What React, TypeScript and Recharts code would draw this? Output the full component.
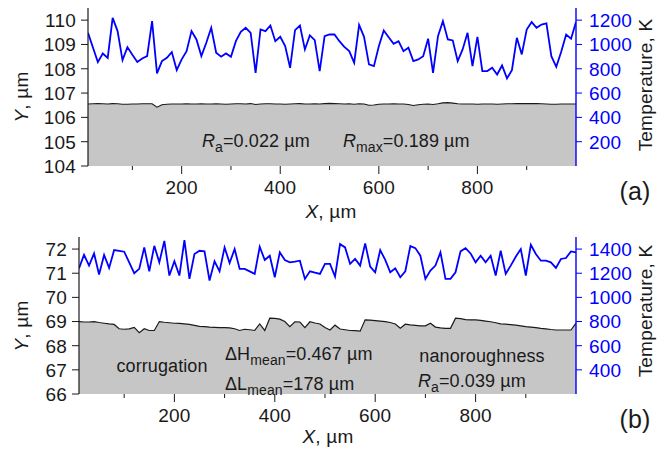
import React from 'react'
import { ComposedChart, Area, Line, XAxis, YAxis } from 'recharts'

const FONT = '"Liberation Sans", Arial, sans-serif'
const BLUE = '#0000ff'
const INK = '#1a1a1a'

// X positions, um
const xs = [
  10, 20, 30, 40, 50, 60, 70, 80, 90, 100, 110, 120, 130, 140, 150, 160, 170, 180, 190, 200,
  210, 220, 230, 240, 250, 260, 270, 280, 290, 300, 310, 320, 330, 340, 350, 360, 370, 380, 390, 400,
  410, 420, 430, 440, 450, 460, 470, 480, 490, 500, 510, 520, 530, 540, 550, 560, 570, 580, 590, 600,
  610, 620, 630, 640, 650, 660, 670, 680, 690, 700, 710, 720, 730, 740, 750, 760, 770, 780, 790, 800,
  810, 820, 830, 840, 850, 860, 870, 880, 890, 900, 910, 920, 930, 940, 950, 960, 970, 980, 990, 1000,
]

// (a) surface profile Y, um
const surfA = [
  106.55, 106.56, 106.57, 106.56, 106.55, 106.57, 106.56, 106.54, 106.54, 106.55,
  106.55, 106.56, 106.56, 106.56, 106.42, 106.52, 106.54, 106.55, 106.55, 106.55,
  106.56, 106.55, 106.55, 106.56, 106.55, 106.55, 106.56, 106.55, 106.54, 106.55,
  106.56, 106.56, 106.55, 106.57, 106.53, 106.55, 106.56, 106.56, 106.55, 106.55,
  106.54, 106.55, 106.56, 106.57, 106.55, 106.55, 106.56, 106.55, 106.57, 106.58,
  106.57, 106.56, 106.55, 106.56, 106.54, 106.56, 106.55, 106.50, 106.51, 106.54,
  106.55, 106.55, 106.56, 106.55, 106.55, 106.53, 106.49, 106.52, 106.54, 106.55,
  106.53, 106.56, 106.60, 106.61, 106.59, 106.56, 106.55, 106.55, 106.55, 106.54,
  106.55, 106.55, 106.55, 106.54, 106.55, 106.56, 106.56, 106.57, 106.57, 106.57,
  106.57, 106.57, 106.56, 106.55, 106.54, 106.54, 106.55, 106.55, 106.55, 106.55,
]

// (a) temperature, K
const tempA = [
  1096, 975, 855, 926, 890, 1219, 1110, 871, 978, 915,
  855, 885, 904, 1192, 762, 863, 890, 937, 789, 877,
  945, 1110, 1041, 904, 1014, 1137, 932, 899, 926, 899,
  1027, 1104, 1137, 1096, 767, 1123, 1110, 1156, 1027, 1063,
  986, 808, 1118, 1156, 959, 1074, 1036, 781, 1068, 1082,
  1082, 1027, 980, 945, 849, 1160, 1063, 836, 822, 986,
  1115, 1060, 1005, 1027, 945, 973, 863, 877, 904, 1047,
  767, 1068, 1192, 1041, 1033, 863, 959, 1096, 822, 1063,
  781, 781, 808, 753, 827, 721, 789, 1055, 918, 1123,
  1184, 1137, 1164, 1173, 904, 816, 940, 1082, 1047, 1185,
]

// (b) surface profile Y, um
const surfB = [
  69.0, 68.98, 68.98, 69.0, 68.96, 68.93, 68.9, 68.88, 68.7, 68.68,
  68.7, 68.76, 68.54, 68.7, 68.63, 68.63, 69.0, 68.97, 68.95, 68.93,
  68.92, 68.9, 68.88, 68.84, 68.8, 68.79, 68.77, 68.76, 68.75, 68.75,
  68.74, 68.7, 68.63, 68.68, 68.66, 68.63, 68.9, 68.63, 69.14, 69.13,
  69.1, 69.0, 68.79, 68.99, 68.98, 68.75, 68.99, 68.94, 68.9, 68.75,
  68.65, 68.85, 68.69, 68.66, 68.63, 68.62, 68.6, 69.07, 69.06, 69.04,
  69.02, 69.0, 68.96, 68.9, 68.72, 68.89, 68.86, 68.84, 68.82, 68.82,
  68.93, 68.77, 68.74, 68.72, 68.72, 69.14, 69.12, 69.08, 69.07, 69.07,
  69.05, 69.02, 68.99, 68.95, 68.9, 68.89, 68.87, 68.85, 68.82, 68.79,
  68.77, 68.75, 68.72, 68.7, 68.67, 68.65, 68.65, 68.65, 68.65, 68.93,
]

// (b) temperature, K
const tempB = [
  1240, 1353, 1263, 1364, 1189, 1351, 1244, 1392, 1385, 1378,
  1290, 1200, 1236, 1414, 1216, 1427, 1290, 1468, 1181, 1299,
  1181, 1474, 1153, 1359, 1386, 1381, 1140, 1299, 1216, 1414,
  1285, 1400, 1236, 1236, 1215, 1195, 1419, 1310, 1345, 1167,
  1373, 1310, 1290, 1296, 1304, 1153, 1216, 1205, 1195, 1277,
  1277, 1173, 1441, 1414, 1277, 1318, 1263, 1447, 1255, 1208,
  1392, 1310, 1208, 1241, 1167, 1216, 1425, 1408, 1345, 1153,
  1222, 1263, 1373, 1153, 1153, 1208, 1381, 1408, 1364, 1290,
  1345, 1290, 1345, 1181, 1386, 1195, 1263, 1337, 1400, 1181,
  1436, 1359, 1304, 1304, 1290, 1244, 1318, 1326, 1381, 1373,
]

const xTicks = [100, 200, 300, 400, 500, 600, 700, 800, 900]
const yTicksA = [104, 105, 106, 107, 108, 109, 110]
const tTicksA = [200, 400, 600, 800, 1000, 1200]
const yTicksB = [66, 67, 68, 69, 70, 71, 72]
const tTicksB = [400, 600, 800, 1000, 1200, 1400]

const dataA = xs.map((x, i) => ({ x, y: surfA[i], t: tempA[i] }))
const dataB = xs.map((x, i) => ({ x, y: surfB[i], t: tempB[i] }))

const txt = { fontFamily: FONT, fontSize: 19, letterSpacing: 0.2 }
const note = { fontFamily: FONT, fontSize: 18, letterSpacing: 0.1 }

const LeftTick = ({ x, y, payload }: any) => (
  <text x={x} y={y} dy="0.36em" textAnchor="end" fill={INK} {...txt}>{payload.value}</text>
)
const RightTick = ({ x, y, payload }: any) => (
  <text x={x} y={y} dy="0.36em" textAnchor="start" fill={BLUE} {...txt}>{payload.value}</text>
)
const XTick = ({ x, y, payload }: any) => {
  const base = y - 13
  const major = payload.value % 200 === 0
  return (
    <g>
      <line x1={x} x2={x} y1={base} y2={base + (major ? 8 : 4)} stroke={INK} strokeWidth={1} />
      {major && (
        <text x={x} y={base + 21} dy="0.36em" textAnchor="middle" fill={INK} {...txt}>{payload.value}</text>
      )}
    </g>
  )
}

function Panel({ data, yDomain, yTicks, tDomain, tTicks, top, height, leftW, xH }: any) {
  return (
    <div style={{ position: 'absolute', left: 0, top }}>
      <ComposedChart width={670} height={height} data={data} margin={{ top: top === 0 ? 8 : 12, right: 0, bottom: 0, left: 0 }}>
        <XAxis
          dataKey="x" type="number" domain={[10, 1000]} ticks={xTicks} allowDataOverflow
          axisLine={false} tickLine={false} tickSize={8} tickMargin={5} height={xH} tick={XTick}
        />
        <YAxis
          yAxisId="left" orientation="left" type="number" domain={yDomain} ticks={yTicks} allowDataOverflow
          width={leftW} stroke={INK} tickSize={7} tickMargin={5} tick={LeftTick}
          axisLine={{ stroke: INK, strokeWidth: 1.2 }} tickLine={{ stroke: INK }}
        />
        <YAxis
          yAxisId="right" orientation="right" type="number" domain={tDomain} ticks={tTicks} allowDataOverflow
          width={94} tickSize={6} tickMargin={7} tick={RightTick}
          axisLine={{ stroke: BLUE, strokeWidth: 1.4 }} tickLine={{ stroke: BLUE }}
        />
        <Area
          yAxisId="left" dataKey="y" type="linear" fill="#c6c6c6" fillOpacity={1}
          stroke={INK} strokeWidth={1.2} isAnimationActive={false} dot={false} activeDot={false}
        />
        <Line
          yAxisId="right" dataKey="t" type="linear" stroke={BLUE} strokeWidth={1.8}
          dot={false} activeDot={false} isAnimationActive={false}
        />
      </ComposedChart>
    </div>
  )
}

// label with a subscript: main, sub, then the rest back on the baseline
const Sub = ({ x, y, lead, italic, s, rest }: any) => (
  <text x={x} y={y} {...note}>
    <tspan fontStyle={italic ? 'italic' : 'normal'}>{lead}</tspan>
    <tspan dy={5} fontSize={14}>{s}</tspan>
    <tspan dy={-5}>{rest}</tspan>
  </text>
)

export default function App() {
  return (
    <div style={{ position: 'absolute', left: 0, top: 0, width: 670, height: 453, background: '#fff' }}>
      <Panel data={dataA} yDomain={[104, 110.5]} yTicks={yTicksA} tDomain={[0, 1300]} tTicks={tTicksA}
        top={0} height={230} leftW={88} xH={64} />
      <Panel data={dataB} yDomain={[66, 72.5]} yTicks={yTicksB} tDomain={[200, 1500]} tTicks={tTicksB}
        top={225} height={228} leftW={79} xH={59} />
      <svg width={670} height={453} style={{ position: 'absolute', left: 0, top: 0, pointerEvents: 'none' }}>
        <g fill={INK} {...txt}>
          {/* axis titles (a) */}
          <text x={28} y={97} textAnchor="middle" transform="rotate(-90 28 97)">
            <tspan fontStyle="italic">Y</tspan>, µm
          </text>
          <text x={652} y={85} textAnchor="middle" transform="rotate(-90 652 85)">Temperature, K</text>
          <text x={331} y={218} textAnchor="middle"><tspan fontStyle="italic">X</tspan>, µm</text>
          <text x={635} y={200} textAnchor="middle" fontSize={25}>(a)</text>

          {/* axis titles (b) */}
          <text x={28} y={326} textAnchor="middle" transform="rotate(-90 28 326)">
            <tspan fontStyle="italic">Y</tspan>, µm
          </text>
          <text x={652} y={311} textAnchor="middle" transform="rotate(-90 652 311)">Temperature, K</text>
          <text x={328} y={443} textAnchor="middle"><tspan fontStyle="italic">X</tspan>, µm</text>
          <text x={635} y={428} textAnchor="middle" fontSize={25}>(b)</text>

          {/* annotations (a) */}
          <Sub x={202} y={147} lead="R" italic s="a" rest="=0.022 µm" />
          <Sub x={343} y={147} lead="R" italic s="max" rest="=0.189 µm" />

          {/* annotations (b) */}
          <text x={162} y={372} textAnchor="middle" {...note}>corrugation</text>
          <Sub x={225} y={360} lead="ΔH" s="mean" rest="=0.467 µm" />
          <Sub x={225} y={390} lead="ΔL" s="mean" rest="=178 µm" />
          <text x={482} y={362} textAnchor="middle" {...note}>nanoroughness</text>
          <Sub x={418} y={387} lead="R" italic s="a" rest="=0.039 µm" />
        </g>
      </svg>
    </div>
  )
}
